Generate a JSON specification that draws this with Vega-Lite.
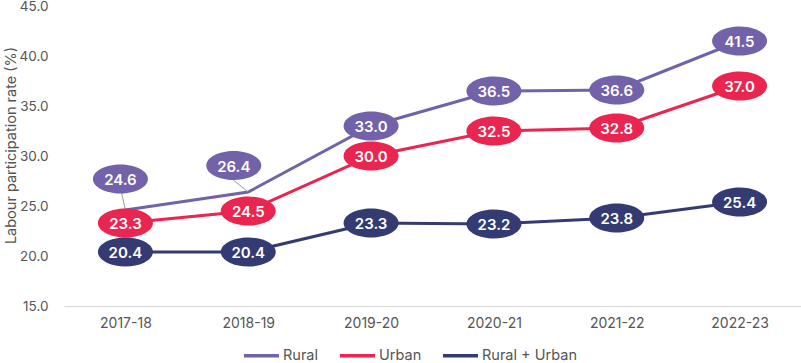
{
  "$schema": "https://vega.github.io/schema/vega-lite/v6.json",
  "width": 737,
  "height": 300,
  "autosize": {"type": "none"},
  "padding": {"left": 64, "top": 6, "right": 0, "bottom": 57},
  "background": "white",
  "config": {
    "view": {"stroke": null},
    "font": "Inter",
    "axis": {"labelFont": "Inter", "titleFont": "Inter", "labelColor": "#555555", "titleColor": "#555555"}
  },
  "data": {
    "values": [
      {"year": "2017-18", "series": "Rural", "value": 24.6},
      {"year": "2018-19", "series": "Rural", "value": 26.4},
      {"year": "2019-20", "series": "Rural", "value": 33.0},
      {"year": "2020-21", "series": "Rural", "value": 36.5},
      {"year": "2021-22", "series": "Rural", "value": 36.6},
      {"year": "2022-23", "series": "Rural", "value": 41.5},
      {"year": "2017-18", "series": "Urban", "value": 23.3},
      {"year": "2018-19", "series": "Urban", "value": 24.5},
      {"year": "2019-20", "series": "Urban", "value": 30.0},
      {"year": "2020-21", "series": "Urban", "value": 32.5},
      {"year": "2021-22", "series": "Urban", "value": 32.8},
      {"year": "2022-23", "series": "Urban", "value": 37.0},
      {"year": "2017-18", "series": "Rural + Urban", "value": 20.4},
      {"year": "2018-19", "series": "Rural + Urban", "value": 20.4},
      {"year": "2019-20", "series": "Rural + Urban", "value": 23.3},
      {"year": "2020-21", "series": "Rural + Urban", "value": 23.2},
      {"year": "2021-22", "series": "Rural + Urban", "value": 23.8},
      {"year": "2022-23", "series": "Rural + Urban", "value": 25.4}
    ]
  },
  "encoding": {
    "x": {
      "field": "year", "type": "ordinal", "sort": null,
      "scale": {"type": "point", "padding": 0.5},
      "axis": {"title": null, "labelAngle": 0, "ticks": false, "domainColor": "#d6d6d6", "domainWidth": 1.2, "labelFontSize": 14, "labelPadding": 10}
    },
    "y": {
      "field": "value", "type": "quantitative",
      "scale": {"domain": [15, 45], "nice": false, "zero": false},
      "axis": {
        "title": "Labour participation rate (%)", "titleFontSize": 14.5, "titleFontWeight": "normal",
        "titleAngle": -90, "titleX": -53, "titleY": 139, "titleAlign": "center", "titleBaseline": "middle",
        "values": [15, 20, 25, 30, 35, 40, 45], "format": ".1f",
        "grid": false, "ticks": false, "domain": false, "labelFontSize": 13.5, "labelPadding": 16
      }
    },
    "color": {
      "field": "series", "type": "nominal",
      "scale": {"domain": ["Rural", "Urban", "Rural + Urban"], "range": ["#7262A9", "#EA2550", "#333B72"]},
      "legend": null
    }
  },
  "layer": [
    {
      "mark": {"type": "line", "strokeWidth": 3},
      "encoding": {
        "color": {
          "field": "series", "type": "nominal",
          "scale": {"domain": ["Rural", "Urban", "Rural + Urban"], "range": ["#7262A9", "#EA2550", "#333B72"]},
          "legend": {
            "title": null, "orient": "none", "direction": "horizontal",
            "legendX": 178, "legendY": 330,
            "symbolType": "stroke", "symbolSize": 1225, "symbolStrokeWidth": 3.5,
            "labelFontSize": 14.5, "labelColor": "#555555", "labelFont": "Inter",
            "labelOffset": 2, "columnPadding": 14
          }
        }
      }
    },
    {
      "transform": [{"filter": "datum.series == 'Rural' && datum.year == '2017-18'"}],
      "mark": {"type": "rule", "color": "#9a9a9a", "strokeWidth": 1, "x2Offset": -4, "y2Offset": -18},
      "encoding": {"x2": {"field": "year"}, "y2": {"field": "value"}, "color": {"value": "#9a9a9a"}}
    },
    {
      "transform": [{"filter": "datum.series == 'Rural' && datum.year == '2018-19'"}],
      "mark": {"type": "rule", "color": "#9a9a9a", "strokeWidth": 1, "x2Offset": -15, "y2Offset": -12},
      "encoding": {"x2": {"field": "year"}, "y2": {"field": "value"}, "color": {"value": "#9a9a9a"}}
    },
    {
      "transform": [{"filter": "!(datum.series == 'Rural' && (datum.year == '2017-18' || datum.year == '2018-19'))"}],
      "mark": {"type": "point", "filled": true, "opacity": 1, "size": 3025, "strokeWidth": 0,
        "shape": "M -1 0 C -1 -0.291 -0.552 -0.527 0 -0.527 C 0.552 -0.527 1 -0.291 1 0 C 1 0.291 0.552 0.527 0 0.527 C -0.552 0.527 -1 0.291 -1 0 Z"}
    },
    {
      "transform": [{"filter": "datum.series == 'Rural' && datum.year == '2017-18'"}],
      "mark": {"type": "point", "filled": true, "opacity": 1, "size": 3025, "strokeWidth": 0, "xOffset": -5, "yOffset": -31,
        "shape": "M -1 0 C -1 -0.291 -0.552 -0.527 0 -0.527 C 0.552 -0.527 1 -0.291 1 0 C 1 0.291 0.552 0.527 0 0.527 C -0.552 0.527 -1 0.291 -1 0 Z"}
    },
    {
      "transform": [{"filter": "datum.series == 'Rural' && datum.year == '2018-19'"}],
      "mark": {"type": "point", "filled": true, "opacity": 1, "size": 3025, "strokeWidth": 0, "xOffset": -14.5, "yOffset": -26.5,
        "shape": "M -1 0 C -1 -0.291 -0.552 -0.527 0 -0.527 C 0.552 -0.527 1 -0.291 1 0 C 1 0.291 0.552 0.527 0 0.527 C -0.552 0.527 -1 0.291 -1 0 Z"}
    },
    {
      "transform": [{"filter": "!(datum.series == 'Rural' && (datum.year == '2017-18' || datum.year == '2018-19'))"}],
      "mark": {"type": "text", "color": "white", "fontSize": 15, "fontWeight": 600, "baseline": "middle", "align": "center", "dy": 1},
      "encoding": {"text": {"field": "value", "type": "quantitative", "format": ".1f"}, "color": {"value": "white"}}
    },
    {
      "transform": [{"filter": "datum.series == 'Rural' && datum.year == '2017-18'"}],
      "mark": {"type": "text", "color": "white", "fontSize": 15, "fontWeight": 600, "baseline": "middle", "align": "center", "dx": -5, "dy": -30},
      "encoding": {"text": {"field": "value", "type": "quantitative", "format": ".1f"}, "color": {"value": "white"}}
    },
    {
      "transform": [{"filter": "datum.series == 'Rural' && datum.year == '2018-19'"}],
      "mark": {"type": "text", "color": "white", "fontSize": 15, "fontWeight": 600, "baseline": "middle", "align": "center", "dx": -14.5, "dy": -25.5},
      "encoding": {"text": {"field": "value", "type": "quantitative", "format": ".1f"}, "color": {"value": "white"}}
    }
  ]
}
